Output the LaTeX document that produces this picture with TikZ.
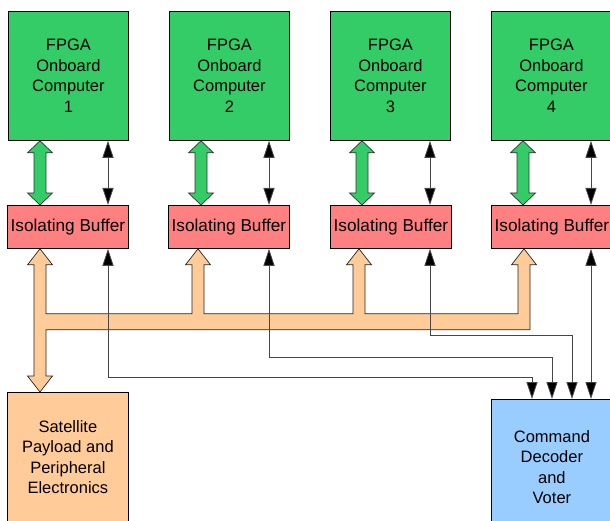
\documentclass[tikz,border=0pt]{standalone}
\usepackage{fontspec}
\setmainfont{Liberation Sans}
\usetikzlibrary{arrows.meta,calc}

\definecolor{fpgagreen}{RGB}{51,204,102}
\definecolor{bufpink}{RGB}{255,128,128}
\definecolor{busorange}{RGB}{255,204,153}
\definecolor{decblue}{RGB}{153,204,255}
\definecolor{wiregray}{RGB}{70,70,70}

\tikzset{
  box/.style={draw=black, line width=0.8pt, anchor=north west, inner sep=0pt,
    align=center, font=\fontsize{16.5}{20.5}\selectfont},
  fpga/.style={box, fill=fpgagreen, minimum width=120, minimum height=129},
  buffer/.style={box, fill=bufpink, minimum width=121, minimum height=43,
    font=\fontsize{17.2}{20.5}\selectfont},
  satbox/.style={box, fill=busorange, minimum width=121, minimum height=129},
  decbox/.style={box, fill=decblue, minimum width=121, minimum height=135},
  wire/.style={draw=wiregray, line width=0.8pt,
    {Triangle[length=17pt,width=11pt,fill=black]}-{Triangle[length=17pt,width=11pt,fill=black]}},
  fatgreen/.style={fill=fpgagreen, draw=black!80, line width=0.7pt, line join=miter},
  fatbus/.style={fill=busorange, draw=black!85, line width=0.7pt, line join=miter}
}

\begin{document}
\begin{tikzpicture}[x=1pt, y=-1pt]
\useasboundingbox (0,0) rectangle (610,521);

% computers
\node[fpga] (f1) at (8,11)   {FPGA\\Onboard\\Computer\\1};
\node[fpga] (f2) at (169,11) {FPGA\\Onboard\\Computer\\2};
\node[fpga] (f3) at (330,11) {FPGA\\Onboard\\Computer\\3};
\node[fpga] (f4) at (491,11) {FPGA\\Onboard\\Computer\\4};

% isolating buffers
\node[buffer] (b1) at (7,205)   {Isolating Buffer};
\node[buffer] (b2) at (168,205) {Isolating Buffer};
\node[buffer] (b3) at (330,205) {Isolating Buffer};
\node[buffer] (b4) at (491,205) {Isolating Buffer};

% payload and voter
\node[satbox] (sat) at (7,392) {Satellite\\Payload and\\Peripheral\\Electronics};
\node[decbox] (dec) at (491,399) {Command\\Decoder\\and\\Voter};

% wide double arrows between each computer and its buffer
\foreach \i/\c in {1/40, 2/201, 3/362, 4/523}{
  \path[fatgreen]
    (f\i.south -| \c,0) -- ++(12.5,12) -- ++(-6.5,0) -- ($(b\i.north -| \c,0)+(6,-12)$)
    -- ++(6.5,0) -- (b\i.north -| \c,0) -- ++(-12.5,-12) -- ++(6.5,0)
    -- ($(f\i.south -| \c,0)+(-6,12)$) -- ++(-6.5,0) -- cycle;
}

% narrow control links between each computer and its buffer
\foreach \i/\c in {1/108, 2/269, 3/430, 4/591}{
  \draw[wire] (f\i.south -| \c,0) -- (b\i.north -| \c,0);
}

% shared data bus joining the buffers and the payload
\coordinate (t1) at (b1.south -| 40,0);
\coordinate (t2) at (b2.south -| 198,0);
\coordinate (t3) at (b3.south -| 359,0);
\coordinate (t4) at (b4.south -| 524,0);
\coordinate (ts) at (sat.north -| 40,0);
\path[fatbus]
  (t1) -- ($(t1)+(12.5,16)$) -- ($(t1)+(6,16)$) -- ($(t1)+(6,65)$)
  -- ($(t2)+(-6,65)$) -- ($(t2)+(-6,16)$) -- ($(t2)+(-12.5,16)$)
  -- (t2) -- ($(t2)+(12.5,16)$) -- ($(t2)+(6,16)$) -- ($(t2)+(6,65)$)
  -- ($(t3)+(-6,65)$) -- ($(t3)+(-6,16)$) -- ($(t3)+(-12.5,16)$)
  -- (t3) -- ($(t3)+(12.5,16)$) -- ($(t3)+(6,16)$) -- ($(t3)+(6,65)$)
  -- ($(t4)+(-6,65)$) -- ($(t4)+(-6,16)$) -- ($(t4)+(-12.5,16)$)
  -- (t4) -- ($(t4)+(12.5,16)$) -- ($(t4)+(6,16)$) -- ($(t4)+(6,81)$)
  -- ($(t1)+(6,81)$) -- ($(ts)+(6,-16)$) -- ($(ts)+(12.5,-16)$) -- (ts)
  -- ($(ts)+(-12.5,-16)$) -- ($(ts)+(-6,-16)$) -- ($(t1)+(-6,16)$)
  -- ($(t1)+(-12.5,16)$) -- cycle;

% control wires from the buffers to the voter
\draw[wire] (b1.south -| 108,0) |- (532,377) -- (dec.north -| 532,0);
\draw[wire] (b2.south -| 269,0) |- (552,357) -- (dec.north -| 552,0);
\draw[wire] (b3.south -| 430,0) |- (572,335) -- (dec.north -| 572,0);
\draw[wire] (b4.south -| 591,0) -- (dec.north -| 591,0);
\end{tikzpicture}
\end{document}
